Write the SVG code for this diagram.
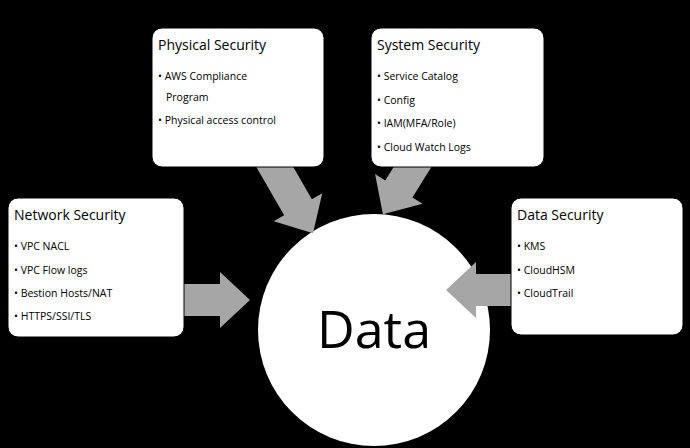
<svg xmlns="http://www.w3.org/2000/svg" width="690" height="448" viewBox="0 0 690 448">
<defs><style>
.box{fill:#fff;stroke:#000;stroke-width:1}
.t{font-family:"Open Sans","Noto Sans",sans-serif;font-size:14px;fill:#000}
.b{font-family:"Open Sans","Noto Sans",sans-serif;font-size:10.5px;fill:#000}
.arr{fill:#a6a6a6}
</style></defs>
<rect width="690" height="448" fill="#000"/>
<g id="data"><circle cx="374" cy="330" r="116" fill="#fff"/>
<text x="374" y="348" text-anchor="middle" font-family="Open Sans,Noto Sans,sans-serif" font-size="52">Data</text></g>
<g id="connectors" class="arr">
<path d="M0,-16 H37 V-28 L67,0 L37,28 V16 H0 Z" transform="translate(183,300)"/>
<path d="M0,-16 H36 V-28 L66,0 L36,28 V16 H0 Z" transform="translate(512,290) rotate(180)"/>
<path d="M0,-16 H66 V-28 L96,0 L66,28 V16 H0 Z" transform="translate(265,150) rotate(60)"/>
<path d="M0,-16 H40 V-28 L70,0 L40,28 V16 H0 Z" transform="translate(420,155) rotate(122)"/>
</g>
<g id="physical"><rect class="box" x="152" y="28" width="172" height="139" rx="10"/>
<text class="t" x="158" y="50">Physical Security</text>
<text class="b" x="158" y="80">• AWS Compliance</text><text class="b" x="166" y="101">Program</text>
<text class="b" x="158" y="124">• Physical access control</text></g>
<g id="system"><rect class="box" x="371" y="28" width="173" height="139" rx="10"/>
<text class="t" x="377" y="50">System Security</text>
<text class="b" x="377" y="80">• Service Catalog</text>
<text class="b" x="377" y="104">• Config</text>
<text class="b" x="377" y="127">• IAM(MFA/Role)</text>
<text class="b" x="377" y="151">• Cloud Watch Logs</text></g>
<g id="network"><rect class="box" x="8" y="198" width="176" height="139" rx="10"/>
<text class="t" x="14" y="220">Network Security</text>
<text class="b" x="14" y="250">• VPC NACL</text>
<text class="b" x="14" y="274">• VPC Flow logs</text>
<text class="b" x="14" y="297">• Bestion Hosts/NAT</text>
<text class="b" x="14" y="320">• HTTPS/SSI/TLS</text></g>
<g id="datasec"><rect class="box" x="511" y="198" width="172" height="137" rx="10"/>
<text class="t" x="517" y="220">Data Security</text>
<text class="b" x="517" y="250">• KMS</text>
<text class="b" x="517" y="274">• CloudHSM</text>
<text class="b" x="517" y="297">• CloudTrail</text></g>
</svg>
